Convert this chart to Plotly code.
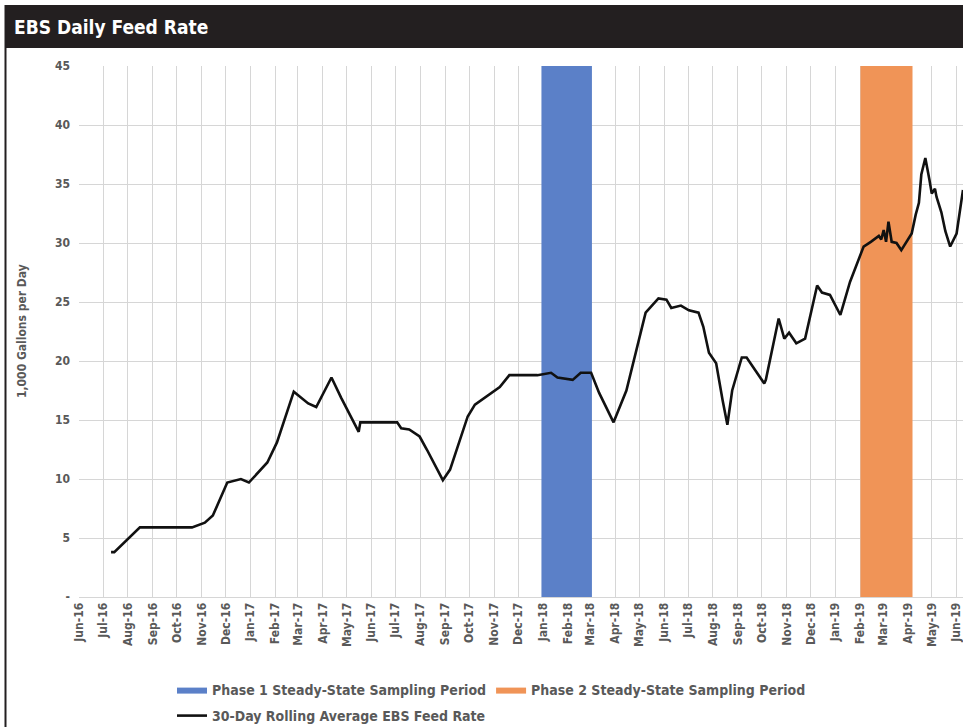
import plotly.graph_objects as go

# ---- data ----
feed_dates = [
    "2016-07-11", "2016-07-15", "2016-08-16", "2016-10-20", "2016-11-05", "2016-11-15",
    "2016-12-03", "2016-12-20", "2016-12-30", "2017-01-22", "2017-02-03", "2017-02-24",
    "2017-03-14", "2017-03-24", "2017-04-12", "2017-04-24", "2017-05-16", "2017-05-18",
    "2017-07-03", "2017-07-08", "2017-07-18", "2017-07-31", "2017-08-09", "2017-08-29",
    "2017-09-07", "2017-09-29", "2017-10-08", "2017-10-20", "2017-11-08", "2017-11-20",
    "2017-12-25", "2018-01-11", "2018-01-19", "2018-02-07", "2018-02-17", "2018-03-02",
    "2018-03-12", "2018-03-30", "2018-04-15", "2018-05-09", "2018-05-25", "2018-06-04",
    "2018-06-10", "2018-06-22", "2018-07-02", "2018-07-14", "2018-07-20", "2018-07-27",
    "2018-08-05", "2018-08-13", "2018-08-19", "2018-08-25", "2018-09-06", "2018-09-12",
    "2018-10-04", "2018-10-06", "2018-10-22", "2018-10-29", "2018-11-04", "2018-11-13",
    "2018-11-24", "2018-12-09", "2018-12-15", "2018-12-25", "2019-01-07", "2019-01-19",
    "2019-02-05", "2019-02-14", "2019-02-24", "2019-02-27", "2019-03-02", "2019-03-05",
    "2019-03-08", "2019-03-12", "2019-03-18", "2019-03-24", "2019-03-31", "2019-04-06",
    "2019-04-11", "2019-04-15", "2019-04-18", "2019-04-23", "2019-04-28", "2019-05-01",
    "2019-05-05", "2019-05-07", "2019-05-13", "2019-05-18", "2019-05-24", "2019-06-01",
    "2019-06-09",
]
feed_rate = [
    3.8, 3.8, 5.9, 5.9, 6.3, 6.9,
    9.7, 10.0, 9.7, 11.4, 13.1, 17.4,
    16.4, 16.1, 18.6, 16.9, 14.0, 14.8,
    14.8, 14.3, 14.2, 13.6, 12.5, 9.9,
    10.8, 15.3, 16.3, 16.9, 17.8, 18.8,
    18.8, 19.0, 18.6, 18.4, 19.0, 19.0,
    17.3, 14.8, 17.5, 24.1, 25.3, 25.2,
    24.5, 24.7, 24.3, 24.1, 22.9, 20.7,
    19.8, 16.7, 14.6, 17.5, 20.3, 20.3,
    18.1, 18.4, 23.6, 21.9, 22.4, 21.5,
    21.9, 26.4, 25.8, 25.6, 23.9, 26.7,
    29.7, 30.1, 30.6, 30.3, 31.1, 30.1,
    31.8, 30.1, 30.0, 29.4, 30.2, 30.8,
    32.4, 33.4, 35.8, 37.2, 35.4, 34.2,
    34.6, 33.9, 32.6, 31.0, 29.7, 30.8,
    34.5,
]

phase_names = ["Phase 1 Steady-State Sampling Period", "Phase 2 Steady-State Sampling Period"]
phase_starts = ["2017-12-30", "2019-02-01"]
phase_ends = ["2018-03-03", "2019-04-07"]
phase_colors = ["#5b80c8", "#f09457"]

y_tick_vals = [0, 5, 10, 15, 20, 25, 30, 35, 40, 45]
y_tick_text = ["-", "5", "10", "15", "20", "25", "30", "35", "40", "45"]
y_max = 45

x_range = ["2016-06-01", "2019-06-09"]

# ---- layout geometry (pixels) ----
W, H = 963, 727
L, R, T, B = 79, 0, 66, 130
pw, ph = W - L - R, H - T - B


def px_x(p):
    return (p - L) / pw


def px_y(p):
    return (H - B - p) / ph


FAMILY = "Liberation Sans Narrow, DejaVu Sans Condensed, Arial Narrow, sans-serif"
LABEL_FONT = dict(family=FAMILY, size=12, color="#595959", weight="bold")

fig = go.Figure()

for name, s, e, c in zip(phase_names, phase_starts, phase_ends, phase_colors):
    fig.add_trace(go.Scatter(
        x=[s, s, e, e, s], y=[0, y_max, y_max, 0, 0],
        mode="lines", fill="toself", fillcolor=c,
        line=dict(width=0, color=c), name=name, hoverinfo="skip",
        legend="legend",
    ))

fig.add_trace(go.Scatter(
    x=feed_dates, y=feed_rate, mode="lines",
    line=dict(color="#111111", width=2.6),
    name="30-Day Rolling Average EBS Feed Rate",
    legend="legend2",
))

fig.update_layout(
    width=W, height=H,
    margin=dict(l=L, r=R, t=T, b=B, autoexpand=False),
    paper_bgcolor="white", plot_bgcolor="white",
    xaxis=dict(
        type="date", range=x_range, tick0="2016-06-01", dtick="M1",
        tickformat="%b-%y", tickangle=-90, tickfont=LABEL_FONT,
        ticklabeloverflow="allow",
        showgrid=True, gridcolor="#d6d6d6", gridwidth=1,
        showline=True, linecolor="#d6d6d6", linewidth=1,
        ticks="", zeroline=False, automargin=False,
    ),
    yaxis=dict(
        range=[0, y_max], tickvals=y_tick_vals, ticktext=y_tick_text,
        tickfont=LABEL_FONT, showgrid=True, gridcolor="#d6d6d6", gridwidth=1,
        zeroline=False, ticks="", ticklabelstandoff=8, automargin=False,
    ),
    legend=dict(
        orientation="h", x=px_x(172), y=px_y(690), xanchor="left", yanchor="middle",
        font=dict(family=FAMILY, size=14, color="#595959", weight="bold"),
        bgcolor="rgba(0,0,0,0)", tracegroupgap=0,
    ),
    legend2=dict(
        orientation="h", x=px_x(172), y=px_y(716), xanchor="left", yanchor="middle",
        font=dict(family=FAMILY, size=14, color="#595959", weight="bold"),
        bgcolor="rgba(0,0,0,0)",
    ),
    showlegend=True,
)

# title bar and frame
fig.add_shape(type="rect", xref="paper", yref="paper",
              x0=px_x(5), x1=px_x(W + 2), y0=px_y(48), y1=px_y(5),
              fillcolor="#231f20", line=dict(width=0), layer="above")
fig.add_shape(type="line", xref="paper", yref="paper",
              x0=px_x(5.5), x1=px_x(5.5), y0=px_y(5), y1=px_y(H + 2),
              line=dict(color="#231f20", width=2))

fig.add_annotation(
    text="EBS Daily Feed Rate", xref="paper", yref="paper",
    x=px_x(12), y=px_y(27), xanchor="left", yanchor="middle", showarrow=False,
    font=dict(family="DejaVu Sans Condensed, Liberation Sans Narrow, sans-serif",
              size=19, color="white", weight="bold"),
)
fig.add_annotation(
    text="1,000 Gallons per Day", xref="paper", yref="paper",
    x=px_x(22), y=px_y(331), xanchor="center", yanchor="middle", showarrow=False,
    textangle=-90, font=dict(family=FAMILY, size=12, color="#595959", weight="bold"),
)

fig.write_html("out.html")
